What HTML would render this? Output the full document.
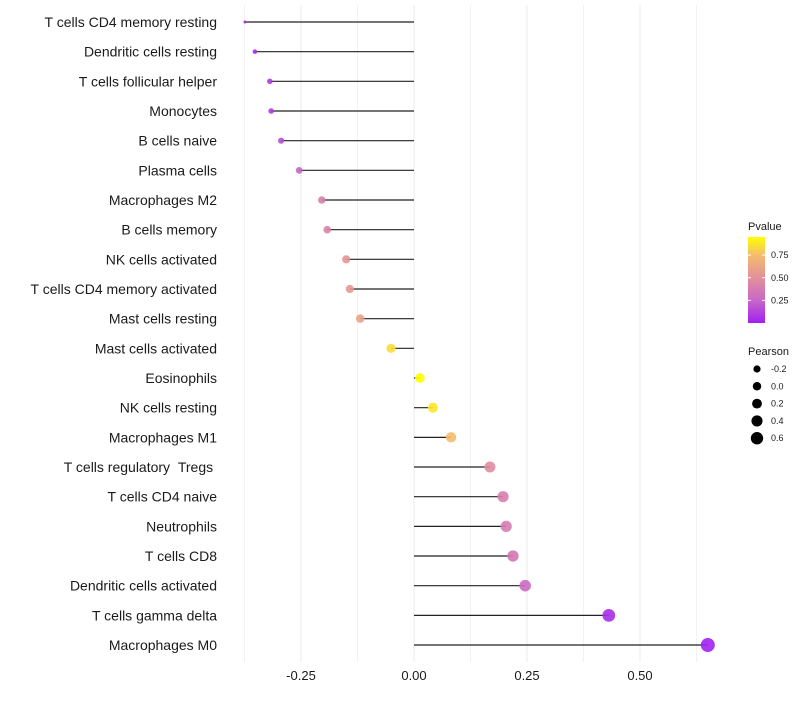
<!DOCTYPE html>
<html><head><meta charset="utf-8"><style>
body{margin:0;background:#fff;width:800px;height:700px;overflow:hidden;font-family:"Liberation Sans",sans-serif}
</style></head><body>
<svg id="chart" width="800" height="700" xmlns="http://www.w3.org/2000/svg" font-family="Liberation Sans, sans-serif">
<defs><linearGradient id="pg" x1="0" y1="1" x2="0" y2="0">
<stop offset="0" stop-color="#A020F0"/><stop offset="0.26" stop-color="#C866C8"/><stop offset="0.53" stop-color="#E3919A"/><stop offset="0.79" stop-color="#F4BC6E"/><stop offset="1" stop-color="#FFFF00"/></linearGradient></defs>
<g id="grid"></g>
<g id="marks"></g>
<g id="ylabels"></g>
<g id="xlabels"></g>
<g>
<text x="748" y="230" font-size="11" fill="#1a1a1a">Pvalue</text>
<rect x="748" y="237" width="17" height="86" fill="url(#pg)"/>
<g id="cbticks"></g>
</g>
<g id="sizeleg">
<text x="748" y="355" font-size="11" fill="#1a1a1a">Pearson</text>
</g>
</svg>
<script>
const categories=["T cells CD4 memory resting","Dendritic cells resting","T cells follicular helper","Monocytes","B cells naive","Plasma cells","Macrophages M2","B cells memory","NK cells activated","T cells CD4 memory activated","Mast cells resting","Mast cells activated","Eosinophils","NK cells resting","Macrophages M1","T cells regulatory\u00a0\u00a0Tregs\u00a0","T cells CD4 naive","Neutrophils","T cells CD8","Dendritic cells activated","T cells gamma delta","Macrophages M0"];
const pearson=[-0.374,-0.352,-0.319,-0.316,-0.294,-0.254,-0.204,-0.192,-0.150,-0.142,-0.119,-0.051,0.013,0.042,0.082,0.168,0.197,0.204,0.219,0.246,0.431,0.650];
const pvalue=[0.02,0.05,0.1,0.1,0.15,0.25,0.4,0.42,0.52,0.55,0.6,0.85,0.97,0.88,0.75,0.47,0.4,0.38,0.35,0.28,0.05,0.005];
const xTicks=[-0.25,0,0.25,0.5];
const xTickLabels=["-0.25","0.00","0.25","0.50"];
const cbTicks=[0.25,0.5,0.75];
const sizeLegendVals=[-0.2,0.0,0.2,0.4,0.6];
const NS="http://www.w3.org/2000/svg";
const x=v=>414+v*452;
const y=i=>22+i*29.667;
const pY=p=>323-p*90.5;
const pMin=Math.min(...pearson),pMax=Math.max(...pearson);
const r=v=>1.5+5.5*Math.sqrt(Math.max(0,(v-pMin)/(pMax-pMin)));
function mk(t,a,p){const e=document.createElementNS(NS,t);for(const k in a)e.setAttribute(k,a[k]);p.appendChild(e);return e;}
const stops=[[0,[160,32,240]],[0.25,[200,102,200]],[0.5,[227,145,154]],[0.75,[244,188,110]],[0.95,[255,255,0]],[1,[255,255,0]]];
function col(p){for(let i=1;i<stops.length;i++){if(p<=stops[i][0]){const a=stops[i-1],b=stops[i],t=(p-a[0])/(b[0]-a[0]);return "rgb("+a[1].map((c,j)=>Math.round(c+(b[1][j]-c)*t)).join(",")+")";}}return "rgb(255,255,0)";}
const grid=document.getElementById('grid');
for(let v=-0.375;v<=0.63;v+=0.125){const l=mk('line',{x1:x(v),x2:x(v),y1:5,y2:662,stroke:Math.abs((v*4)%1)<0.01?'#ebebeb':'#f2f2f2','stroke-width':1},grid);

}
const marks=document.getElementById('marks'),yl=document.getElementById('ylabels');
categories.forEach((c,i)=>{
const s=mk('line',{x1:x(0),x2:x(pearson[i]),y1:y(i),y2:y(i),stroke:'#222','stroke-width':1.2},marks);


const d=mk('circle',{cx:x(pearson[i]),cy:y(i),r:r(pearson[i]),fill:col(pvalue[i]),'fill-opacity':0.9},marks);


const t=mk('text',{x:217,y:y(i)+5,'font-size':14,'text-anchor':'end',fill:'#1a1a1a'},yl);t.textContent=c;


});
const xl=document.getElementById('xlabels');
xTicks.forEach((v,i)=>{const t=mk('text',{x:x(v),y:680,'font-size':13,'text-anchor':'middle',fill:'#1a1a1a'},xl);t.textContent=xTickLabels[i];

});
const cb=document.getElementById('cbticks');
cbTicks.forEach(v=>{mk('line',{x1:748,x2:751,y1:pY(v),y2:pY(v),stroke:'#fff'},cb);mk('line',{x1:762,x2:765,y1:pY(v),y2:pY(v),stroke:'#fff'},cb);
const t=mk('text',{x:771,y:pY(v)+3,'font-size':9,fill:'#1a1a1a'},cb);t.textContent=v.toFixed(2);

});
const sl=document.getElementById('sizeleg');
sizeLegendVals.forEach((v,i)=>{const cy=369+i*17.3;const c=mk('circle',{cx:757,cy:cy,r:3.6+i*0.65,fill:'#000'},sl);


const t=mk('text',{x:771,y:cy+3,'font-size':9,fill:'#1a1a1a'},sl);t.textContent=v.toFixed(1);

});
</script>
</body></html>
